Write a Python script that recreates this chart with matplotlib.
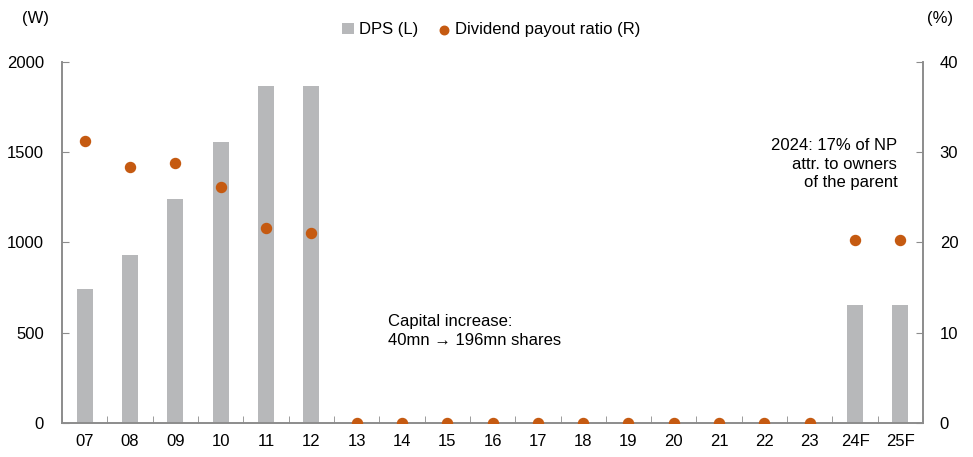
import numpy as np
import matplotlib.pyplot as plt
from matplotlib.ticker import MultipleLocator, FixedLocator

plt.rcParams['font.family'] = ['Liberation Sans Narrow', 'Liberation Sans', 'DejaVu Sans']

years = ['07', '08', '09', '10', '11', '12', '13', '14', '15', '16', '17',
         '18', '19', '20', '21', '22', '23', '24F', '25F']
dps = [742, 930, 1240, 1555, 1867, 1867, 0, 0, 0, 0, 0, 0, 0, 0, 0, 0, 0, 654, 654]
payout = [31.2, 28.4, 28.8, 26.1, 21.6, 21.1, 0, 0, 0, 0, 0, 0, 0, 0, 0, 0, 0, 20.3, 20.3]

bar_color = '#b7b8ba'
dot_color = '#c55a11'
spine_color = '#8c8c8c'


def draw():
    fig = plt.figure(figsize=(9.73, 4.57), dpi=100)
    ax = fig.add_axes([0.0637, 0.0744, 0.885, 0.790])
    ax2 = ax.twinx()

    x = np.arange(len(years))
    ax.bar(x, dps, width=0.35, color=bar_color, zorder=2, label='DPS (L)')
    ax2.scatter(x, payout, s=52, color=dot_color, zorder=3, label='Dividend payout ratio (R)')

    ax.set_xlim(-0.5, len(years) - 0.5)
    ax.set_ylim(0, 2000)
    ax2.set_ylim(0, 40)
    ax.yaxis.set_major_locator(MultipleLocator(500))
    ax2.yaxis.set_major_locator(MultipleLocator(10))

    ax.set_xticks(x)
    ax.set_xticklabels(years)
    ax.xaxis.set_minor_locator(FixedLocator(np.arange(-0.5, len(years), 1.0)))
    ax.tick_params(axis='x', which='major', length=0, pad=8, labelsize=12)
    ax.tick_params(axis='x', which='minor', direction='in', length=5, color=spine_color)
    ax.tick_params(axis='y', direction='in', length=5, color=spine_color, labelsize=12, pad=13)
    ax2.tick_params(axis='y', direction='in', length=5, color=spine_color, labelsize=12, pad=12)

    for a in (ax, ax2):
        a.spines['top'].set_visible(False)
        for s in ('left', 'right', 'bottom'):
            a.spines[s].set_color(spine_color)
            a.spines[s].set_linewidth(1.2)
    ax.set_zorder(ax2.get_zorder() - 1)
    ax2.patch.set_visible(False)

    fig.text(0.036, 0.96, '(W)', ha='center', va='center', fontsize=12)
    fig.text(0.966, 0.96, '(%)', ha='center', va='center', fontsize=12)

    h1, l1 = ax.get_legend_handles_labels()
    h2, l2 = ax2.get_legend_handles_labels()
    fig.legend(h1 + h2, l1 + l2, loc='center', bbox_to_anchor=(0.505, 0.935),
               ncol=2, frameon=False, fontsize=12, handlelength=0.7,
               handletextpad=0.3, columnspacing=1.2, markerscale=0.85)

    ax.text(6.7, 604, 'Capital increase:\n40mn \u2192 196mn shares', ha='left', va='top',
            fontsize=12, linespacing=1.3)
    ax.text(17.93, 1579, '2024: 17% of NP\nattr. to owners\nof the parent', ha='right',
            va='top', fontsize=12, linespacing=1.3, multialignment='right')

    fig.savefig('out.png', dpi=100)


if __name__ == '__main__':
    draw()
